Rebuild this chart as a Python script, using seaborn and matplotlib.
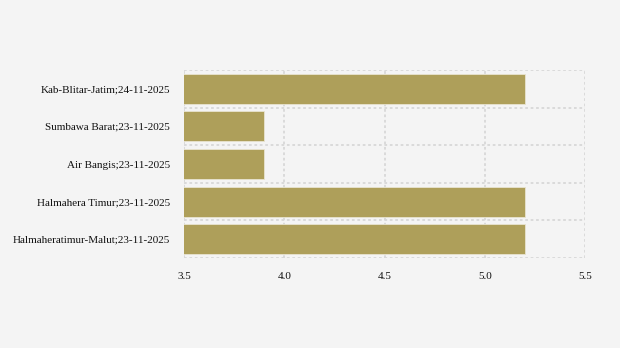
import matplotlib
matplotlib.use("Agg")
import matplotlib.pyplot as plt
import seaborn as sns
import pandas as pd
import numpy as np

categories = ["Kab-Blitar-Jatim;24-11-2025", "Sumbawa Barat;23-11-2025", "Air Bangis;23-11-2025",
              "Halmahera Timur;23-11-2025", "Halmaheratimur-Malut;23-11-2025"]
values = [5.2, 3.9, 3.9, 5.2, 5.2]
xticks = [3.5, 4.0, 4.5, 5.0, 5.5]

sns.set_style("white")
plt.rcParams['font.family'] = ['Liberation Serif', 'DejaVu Serif']

df = pd.DataFrame({"cat": categories, "val": values})
fig = plt.figure(figsize=(6.2, 3.48), dpi=100, facecolor="#f4f4f4")
ax = fig.add_axes([184/620, 1-258/348, (585-184)/620, (258-70)/348])
ax.set_facecolor("#f4f4f4")
sns.barplot(data=df, x="val", y="cat", color="#ae9f5a", saturation=1, width=0.8, ax=ax,
            orient="h", linewidth=0.6, edgecolor="#e8e4d0")
ax.set_xlim(3.5, 5.5)
ax.set_ylim(4.5, -0.5)
ax.set_xticks(xticks)
ax.set_xticklabels([f"{t:.1f}" for t in xticks], fontsize=8, color="#111111")
ax.set_yticks(range(len(categories)))
ax.set_yticklabels(categories, fontsize=8, color="#111111")
ax.set_xlabel("")
ax.set_ylabel("")
for s in ax.spines.values():
    s.set_visible(False)
gc = "#d8d8d8"
for x in xticks:
    ax.axvline(x, color=gc, lw=1.3, ls=(0, (1.5, 1.5)), zorder=0.5)
for y in np.arange(-0.5, len(categories), 1.0):
    ax.axhline(y, color=gc, lw=1.3, ls=(0, (1.5, 1.5)), zorder=0.5)
ax.tick_params(axis="y", length=4, color="#dddddd", pad=6)
ax.tick_params(axis="x", length=0, pad=10)
fig.savefig("out.png", dpi=100, facecolor="#f4f4f4")
